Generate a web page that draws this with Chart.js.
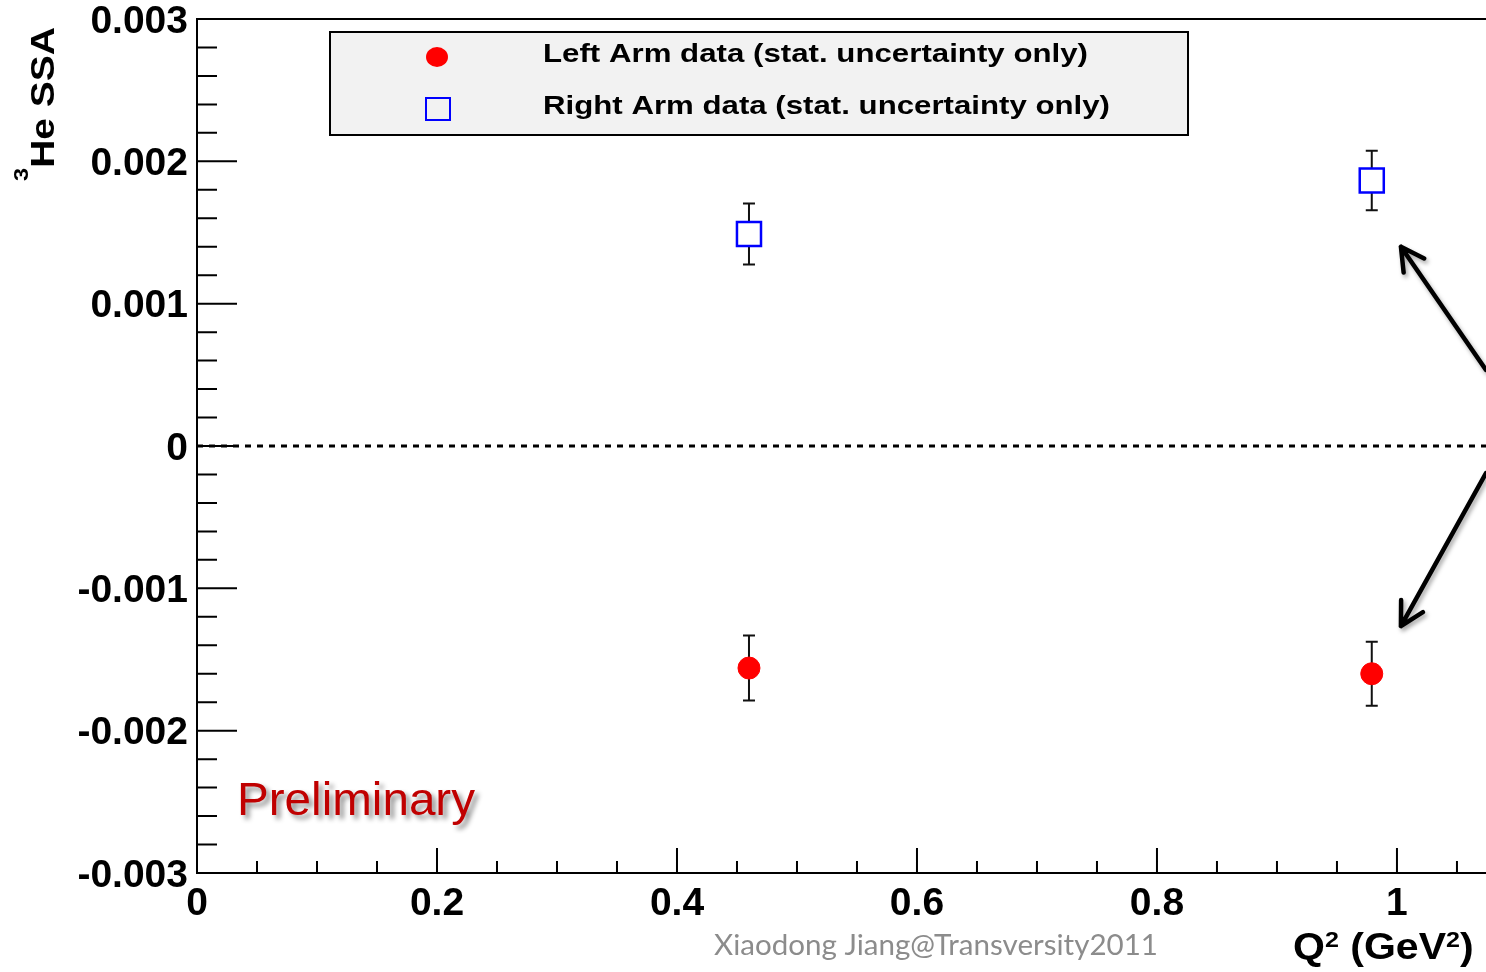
<!DOCTYPE html>
<html>
<head>
<meta charset="utf-8">
<title>3He SSA vs Q2</title>
<script src="https://cdn.jsdelivr.net/npm/chart.js@4"></script>
<style>
  html, body { margin: 0; padding: 0; background: #fff; }
  canvas { display: block; }
</style>
</head>
<body>
<canvas id="ssaChart" width="1486" height="972"></canvas>
<script>
const q2Values = [0.46, 0.979];
const leftArmSSA = [-0.00156, -0.0016];
const leftArmErr = [0.000228, 0.000225];
const rightArmSSA = [0.00149, 0.001865];
const rightArmErr = [0.000214, 0.000209];
const xTickLabels = ["0", "0.2", "0.4", "0.6", "0.8", "1"];
const yTickLabels = ["-0.003", "-0.002", "-0.001", "0", "0.001", "0.002", "0.003"];
const legendLabels = [
  "Left Arm data (stat. uncertainty only)",
  "Right Arm data (stat. uncertainty only)",
];
// arrows pointing at the Q2 ~ 1 points, [tail, tip] in data units
const arrowLines = [
  [[1.0742, 0.000534], [1.0033, 0.0014]],
  [[1.0742, -0.00019], [1.0033, -0.001265]],
];

const helv = "'Liberation Sans', Arial, Helvetica, sans-serif";

function toPoints(xs, ys) {
  return xs.map((x, i) => ({ x: x, y: ys[i] }));
}

function drawErrorBars(ctx, xs, ys, values, errors) {
  ctx.strokeStyle = "#111";
  ctx.lineWidth = 2;
  values.forEach((v, i) => {
    const px = xs.getPixelForValue(q2Values[i]);
    const top = ys.getPixelForValue(v + errors[i]);
    const bot = ys.getPixelForValue(v - errors[i]);
    ctx.beginPath();
    ctx.moveTo(px, top);
    ctx.lineTo(px, bot);
    ctx.moveTo(px - 6, top);
    ctx.lineTo(px + 6, top);
    ctx.moveTo(px - 6, bot);
    ctx.lineTo(px + 6, bot);
    ctx.stroke();
  });
}

// text squeezed/stretched horizontally to a given width
function fillStretched(ctx, text, x, y, width) {
  const w = ctx.measureText(text).width;
  ctx.save();
  ctx.translate(x, y);
  ctx.scale(width / w, 1);
  ctx.fillText(text, 0, 0);
  ctx.restore();
}

// runs of text with superscripts: [text, font, raise]
function drawRuns(ctx, runs, sx) {
  let x = 0;
  runs.forEach((r) => {
    ctx.font = r[1];
    ctx.save();
    ctx.scale(sx, 1);
    ctx.fillText(r[0], x / sx, -r[2]);
    ctx.restore();
    x += ctx.measureText(r[0]).width * sx;
  });
}

function runsWidth(ctx, runs) {
  let w = 0;
  runs.forEach((r) => {
    ctx.font = r[1];
    w += ctx.measureText(r[0]).width;
  });
  return w;
}

function drawArrow(ctx, x0, y0, x1, y1) {
  const a = Math.atan2(y0 - y1, x0 - x1);
  const len = 26, spread = 0.5;
  ctx.beginPath();
  ctx.moveTo(x0, y0);
  ctx.lineTo(x1, y1);
  ctx.moveTo(x1 + len * Math.cos(a - spread), y1 + len * Math.sin(a - spread));
  ctx.lineTo(x1, y1);
  ctx.lineTo(x1 + len * Math.cos(a + spread), y1 + len * Math.sin(a + spread));
  ctx.stroke();
}

const decorations = {
  id: "decorations",
  beforeDatasetsDraw(chart) {
    const ctx = chart.ctx;
    const xs = chart.scales.x, ys = chart.scales.y, area = chart.chartArea;
    ctx.save();
    // dashed zero line
    const y0 = ys.getPixelForValue(0);
    ctx.strokeStyle = "#000";
    ctx.lineWidth = 3;
    ctx.setLineDash([6, 6]);
    ctx.beginPath();
    ctx.moveTo(area.left, y0);
    ctx.lineTo(area.right, y0);
    ctx.stroke();
    ctx.setLineDash([]);
    drawErrorBars(ctx, xs, ys, leftArmSSA, leftArmErr);
    drawErrorBars(ctx, xs, ys, rightArmSSA, rightArmErr);
    ctx.restore();
  },
  afterDraw(chart) {
    const ctx = chart.ctx;
    const xs = chart.scales.x, ys = chart.scales.y, area = chart.chartArea;
    ctx.save();

    // frame and inward ticks
    ctx.strokeStyle = "#000";
    ctx.lineWidth = 2;
    ctx.beginPath();
    ctx.moveTo(area.right, area.top);
    ctx.lineTo(area.left, area.top);
    ctx.lineTo(area.left, area.bottom);
    ctx.lineTo(area.right, area.bottom);
    for (let i = -15; i <= 15; i++) {
      const py = ys.getPixelForValue(i * 0.0002);
      ctx.moveTo(area.left, py);
      ctx.lineTo(area.left + (i % 5 === 0 ? 40 : 20), py);
    }
    for (let i = 0; i <= 21; i++) {
      const px = xs.getPixelForValue(i * 0.05);
      ctx.moveTo(px, area.bottom);
      ctx.lineTo(px, area.bottom - (i % 4 === 0 ? 25 : 12));
    }
    ctx.stroke();

    // legend box
    ctx.fillStyle = "#f2f2f2";
    ctx.fillRect(330, 32, 858, 103);
    ctx.strokeRect(330, 32, 858, 103);
    ctx.fillStyle = "#ff0000";
    ctx.beginPath();
    ctx.ellipse(437, 57, 11, 10, 0, 0, Math.PI * 2);
    ctx.fill();
    ctx.strokeStyle = "#0000ff";
    ctx.strokeRect(426, 98, 24, 22);
    ctx.fillStyle = "#000";
    ctx.font = "bold 26px " + helv;
    ctx.textBaseline = "middle";
    fillStretched(ctx, legendLabels[0], 543, 55, 545);
    fillStretched(ctx, legendLabels[1], 543, 107, 567);

    // Preliminary
    ctx.save();
    ctx.textBaseline = "alphabetic";
    ctx.font = "47px " + helv;
    ctx.fillStyle = "#c00000";
    ctx.shadowColor = "rgba(0,0,0,0.45)";
    ctx.shadowBlur = 5;
    ctx.shadowOffsetX = 4;
    ctx.shadowOffsetY = 4;
    fillStretched(ctx, "Preliminary", 237, 815, 238);
    ctx.restore();

    // footer credit
    ctx.font = "28px Lato, 'Open Sans', sans-serif";
    ctx.fillStyle = "#8c8c8c";
    ctx.textBaseline = "middle";
    fillStretched(ctx, "Xiaodong Jiang@Transversity2011", 714, 946, 444);

    // x axis title
    ctx.fillStyle = "#000";
    ctx.textBaseline = "alphabetic";
    const big = "bold 36px " + helv, small = "bold 22px " + helv;
    ctx.save();
    ctx.translate(1293, 959);
    drawRuns(ctx, [["Q", big, 0], ["2", small, 12], [" (GeV", big, 0], ["2", small, 12], [")", big, 0]], 1.14);
    ctx.restore();

    // y axis title, reading bottom to top
    const yRuns = [["3", "bold 20px " + helv, 26], ["He SSA", "bold 33px " + helv, 0]];
    ctx.save();
    ctx.translate(54, 181);
    ctx.rotate(-Math.PI / 2);
    drawRuns(ctx, yRuns, 154 / runsWidth(ctx, yRuns));
    ctx.restore();

    // arrows
    ctx.strokeStyle = "#000";
    ctx.lineWidth = 4.5;
    ctx.lineCap = "round";
    ctx.lineJoin = "round";
    ctx.shadowColor = "rgba(0,0,0,0.35)";
    ctx.shadowBlur = 4;
    ctx.shadowOffsetX = 2;
    ctx.shadowOffsetY = 3;
    arrowLines.forEach((a) => {
      drawArrow(ctx,
        xs.getPixelForValue(a[0][0]), ys.getPixelForValue(a[0][1]),
        xs.getPixelForValue(a[1][0]), ys.getPixelForValue(a[1][1]));
    });
    ctx.restore();
  },
};

new Chart("ssaChart", {
  type: "scatter",
  data: {
    datasets: [
      {
        label: legendLabels[0],
        data: toPoints(q2Values, leftArmSSA),
        pointStyle: "circle",
        pointRadius: 11,
        backgroundColor: "#ff0000",
        borderColor: "#ff0000",
        borderWidth: 1,
      },
      {
        label: legendLabels[1],
        data: toPoints(q2Values, rightArmSSA),
        pointStyle: "rect",
        pointRadius: 17,
        backgroundColor: "#ffffff",
        borderColor: "#0000ff",
        borderWidth: 2.5,
      },
    ],
  },
  options: {
    responsive: false,
    devicePixelRatio: 1,
    animation: false,
    layout: { autoPadding: false, padding: { top: 19, right: 0, left: 0, bottom: 0 } },
    plugins: {
      legend: { display: false },
      tooltip: { enabled: false },
    },
    scales: {
      x: {
        type: "linear",
        min: 0,
        max: 1.0742,
        grid: { display: false, drawTicks: false },
        border: { display: false },
        afterBuildTicks: (scale) => {
          scale.ticks = scale.ticks.filter((t) => Math.abs(t.value / 0.2 - Math.round(t.value / 0.2)) < 1e-6);
        },
        afterFit: (scale) => {
          scale.height = 99;
          scale.paddingLeft = 0;
          scale.paddingRight = 0;
        },
        ticks: {
          stepSize: 0.2,
          includeBounds: false,
          autoSkip: false,
          padding: 12,
          color: "#000",
          maxRotation: 0,
          font: { family: helv, size: 39, weight: "bold", lineHeight: 1 },
          callback: (v) => xTickLabels[Math.round(v / 0.2)],
        },
      },
      y: {
        min: -0.003,
        max: 0.003,
        grid: { display: false, drawTicks: false },
        border: { display: false },
        afterFit: (scale) => {
          scale.width = 197;
          scale.paddingTop = 0;
          scale.paddingBottom = 0;
        },
        ticks: {
          stepSize: 0.001,
          padding: 9,
          labelOffset: 3,
          color: "#000",
          font: { family: helv, size: 39, weight: "bold", lineHeight: 1 },
          callback: (v) => yTickLabels[Math.round(v / 0.001) + 3],
        },
      },
    },
  },
  plugins: [decorations],
});
</script>
</body>
</html>
